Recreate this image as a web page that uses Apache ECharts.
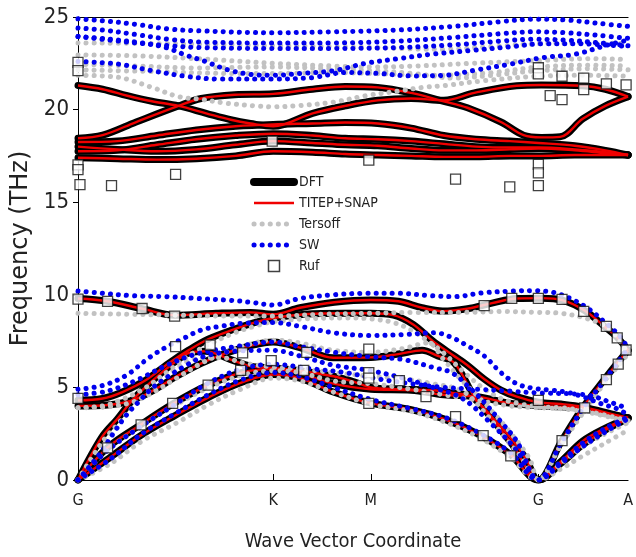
<!DOCTYPE html>
<html>
<head>
<meta charset="utf-8">
<title>Phonon dispersion</title>
<script src="https://cdn.jsdelivr.net/npm/echarts@6.0.0/dist/echarts.min.js"></script>
<style>
  html, body { margin: 0; padding: 0; background: #fff; }
  #chart { width: 636px; height: 557px; }
</style>
</head>
<body>
<div id="chart"></div>
<script>
// path G-K-M-G-A, x in path units (1 unit = 1 px of the plot)
const pathPos = [0, 198, 297, 467, 558];
const pathLabels = ['G', 'K', 'M', 'G', 'A'];

// DFT bands (also used for TITEP+SNAP, the two overlap)
const dftLow = [
  [[0,0],[32,1.2],[65,2.45],[99,3.5],[132,4.45],[165,5.25],[198,5.7],[225,5.5],[259,4.75],[297,4.15],[338,3.8],[371,3.3],[405,2.5],[438,1.4],[467,0],[490,0.9],[512,1.9],[535,2.7],[558,3.3]],
  [[0,0],[30,1.75],[64,3.0],[96,4.1],[131,5.1],[166,5.8],[198,6.0],[225,5.75],[259,5.2],[297,4.9],[338,4.85],[371,4.6],[405,4.5],[438,4.15],[467,4.0],[490,3.95],[512,3.85],[535,3.6],[558,3.35]],
  [[0,0],[24,2.3],[40,3.3],[55,4.3],[70,5.1],[85,5.8],[99,6.4],[112,6.85],[129,6.95],[155,6.5],[175,6.15],[198,6.05],[225,5.9],[259,5.6],[280,5.3],[297,5.0],[325,4.9],[360,4.85],[380,4.7],[399,4.5],[420,3.4],[440,2.2],[455,1.1],[467,0],[490,1.0],[512,2.1],[535,2.8],[558,3.35]],
  [[0,4.0],[30,4.05],[55,4.3],[75,4.8],[100,5.6],[125,6.3],[150,6.85],[175,7.25],[198,7.45],[225,7.15],[259,6.6],[297,6.62],[325,6.8],[349,7.0],[365,6.7],[382,6.3],[402,4.5],[420,3.3],[440,1.95],[467,0],[490,2.05],[512,3.9],[535,5.5],[547,6.3],[558,7.0]],
  [[0,4.3],[25,4.4],[45,4.75],[69,5.4],[92,6.3],[112,7.0],[132,7.6],[159,8.15],[179,8.5],[198,8.75],[230,8.95],[270,9.0],[297,9.0],[320,8.9],[340,8.4],[360,7.5],[380,6.75],[395,6.2],[412,5.45],[429,4.85],[445,4.5],[467,4.2],[490,4.1],[512,3.95],[535,3.65],[558,3.35]],
  [[0,9.8],[30,9.65],[65,9.25],[98,8.9],[140,9.0],[175,9.05],[198,8.95],[225,9.3],[260,9.6],[297,9.72],[325,9.65],[349,9.3],[370,9.12],[395,9.25],[420,9.55],[445,9.8],[470,9.82],[492,9.7],[514,9.15],[535,8.25],[547,7.7],[558,7.0]]
];
const dftHigh = [
  [[0,17.4],[40,17.35],[80,17.3],[120,17.35],[160,17.5],[198,17.75],[238,17.7],[271,17.6],[304,17.55],[338,17.5],[371,17.45],[404,17.45],[438,17.5],[467,17.5],[504,17.55],[535,17.55],[558,17.55]],
  [[0,17.75],[40,17.8],[80,18.1],[120,18.4],[160,18.6],[198,18.7],[238,18.6],[271,18.45],[304,18.4],[338,18.3],[371,18.15],[404,18.0],[438,17.95],[467,17.95],[504,17.85],[535,17.7],[558,17.55]],
  [[0,18.0],[40,17.85],[80,17.75],[120,17.85],[160,18.1],[198,18.3],[238,18.2],[271,18.1],[304,18.05],[338,17.9],[371,17.8],[404,17.8],[438,17.85],[467,17.9],[504,17.8],[535,17.65],[558,17.55]],
  [[0,18.25],[40,18.3],[80,18.6],[120,18.9],[160,19.1],[198,19.2],[238,19.25],[271,19.3],[304,19.25],[338,19.0],[371,18.6],[404,18.4],[438,18.3],[467,18.2],[504,18.05],[535,17.8],[558,17.55]],
  [[0,18.45],[25,18.62],[59,19.33],[102,20.2],[125,20.6],[159,20.8],[198,20.85],[238,21.1],[271,21.25],[304,21.2],[338,20.9],[371,20.45],[395,20.1],[429,19.33],[452,18.62],[470,18.5],[489,18.53],[512,19.5],[535,20.2],[558,20.7]],
  [[0,21.3],[25,21.1],[50,20.75],[75,20.45],[102,20.2],[130,19.8],[155,19.45],[175,19.25],[198,19.1],[238,19.8],[271,20.2],[304,20.5],[338,20.6],[371,20.5],[402,20.9],[445,21.29],[470,21.33],[512,21.29],[535,21.1],[558,20.7]]
];

const tersoffLow = [
  [[0,0],[32,0.85],[65,2.1],[99,3.05],[132,4.05],[165,4.9],[198,5.5],[225,5.35],[259,4.75],[297,4.1],[338,3.7],[371,3.15],[405,2.35],[438,1.25],[467,0],[490,0.6],[512,1.3],[535,2.0],[558,2.7]],
  [[0,0],[30,1.6],[64,2.9],[96,3.95],[131,4.95],[166,5.65],[198,5.9],[225,5.8],[259,5.35],[297,5.2],[338,4.9],[371,4.6],[405,4.3],[438,4.0],[467,3.9],[490,3.85],[512,3.7],[535,3.45],[558,3.15]],
  [[0,0],[24,2.0],[40,3.0],[55,3.9],[70,4.7],[85,5.4],[99,6.0],[120,6.55],[145,6.6],[170,6.3],[198,6.1],[225,6.0],[259,5.8],[297,5.6],[325,5.5],[360,5.2],[390,4.8],[410,3.8],[430,2.5],[450,1.2],[467,0],[490,0.9],[512,1.8],[535,2.5],[558,3.1]],
  [[0,3.9],[30,3.95],[55,4.2],[75,4.7],[100,5.5],[125,6.3],[150,6.9],[175,7.35],[198,7.55],[225,7.4],[259,7.0],[297,6.9],[330,7.1],[355,7.4],[371,6.5],[388,5.45],[405,4.55],[421,3.65],[438,2.6],[458,1.15],[467,0],[490,1.9],[512,3.6],[535,5.3],[558,6.8]],
  [[0,3.9],[25,4.0],[45,4.35],[69,5.0],[92,5.9],[112,6.7],[132,7.3],[159,7.95],[179,8.3],[198,8.55],[230,8.7],[270,8.75],[297,8.7],[320,8.5],[338,8.1],[355,7.5],[370,6.9],[390,5.9],[410,5.0],[429,4.4],[445,4.15],[467,3.95],[490,3.9],[512,3.75],[535,3.5],[558,3.2]],
  [[0,9.0],[50,8.95],[100,8.9],[150,8.85],[198,8.85],[250,8.95],[297,9.0],[340,9.05],[390,9.05],[430,9.1],[467,9.05],[490,9.0],[514,8.75],[535,8.3],[547,7.7],[558,6.8]]
];
const tersoffHigh = [
  [[0,23.6],[100,23.55],[198,23.45],[297,23.35],[370,23.25],[420,23.4],[467,23.55],[520,23.6],[558,23.55]],
  [[0,22.95],[60,22.9],[120,22.75],[198,22.5],[260,22.35],[297,22.3],[340,22.35],[400,22.5],[467,22.65],[520,22.75],[558,22.7]],
  [[0,22.45],[60,22.35],[120,22.25],[198,22.3],[259,22.2],[297,22.1],[340,21.95],[382,21.7],[420,21.85],[467,22.1],[520,22.2],[558,22.15]],
  [[0,22.15],[80,22.05],[160,21.95],[198,21.95],[259,22.0],[297,21.95],[360,21.85],[420,22.0],[467,22.3],[520,22.4],[558,22.35]],
  [[0,21.85],[40,21.75],[75,21.2],[102,20.7],[125,20.55],[150,20.35],[180,20.2],[198,20.15],[225,20.22],[259,20.4],[292,20.75],[325,21.0],[350,21.2],[372,21.3],[410,21.55],[467,21.8],[520,21.85],[558,21.8]]
];

const swLow = [
  [[0,0],[32,1.1],[65,2.5],[99,3.6],[132,4.6],[165,5.4],[198,5.8],[225,5.6],[259,5.0],[297,4.35],[338,3.85],[371,3.4],[405,2.6],[438,1.5],[467,0],[490,0.9],[512,1.8],[535,2.6],[558,3.3]],
  [[0,0],[30,1.6],[64,2.9],[96,4.0],[131,5.2],[166,6.0],[198,6.25],[238,6.0],[271,5.8],[305,5.45],[338,5.2],[371,5.0],[405,4.9],[438,4.8],[467,4.7],[515,4.6],[540,4.2],[558,3.85]],
  [[0,0],[22,1.4],[35,2.45],[49,3.5],[62,4.25],[75,4.95],[89,5.5],[110,6.2],[130,6.7],[160,6.95],[198,7.0],[225,6.7],[259,6.2],[297,5.9],[330,5.5],[360,5.0],[390,4.4],[420,3.0],[445,1.6],[467,0],[490,1.0],[512,2.0],[535,2.8],[558,3.4]],
  [[0,4.6],[30,4.8],[60,5.4],[90,6.2],[120,6.8],[160,7.2],[198,7.45],[225,7.2],[259,6.9],[297,6.65],[330,6.5],[362,6.05],[379,5.8],[395,5.1],[412,4.2],[429,3.15],[445,2.1],[467,0],[490,2.0],[512,3.85],[535,5.45],[558,7.1]],
  [[0,4.9],[25,5.1],[49,5.65],[72,6.6],[92,7.25],[109,7.7],[125,8.1],[145,8.3],[165,8.45],[198,8.5],[225,8.3],[259,7.95],[297,7.8],[330,7.85],[362,7.95],[379,7.7],[395,7.25],[412,6.7],[429,5.8],[445,5.2],[462,4.95],[479,4.85],[495,4.75],[512,4.5],[529,4.15],[549,3.8],[558,3.5]],
  [[0,10.2],[22,10.1],[55,9.95],[89,9.9],[122,9.8],[155,9.7],[175,9.6],[198,9.45],[225,9.8],[259,10.0],[292,10.08],[325,10.08],[359,9.95],[382,9.9],[410,10.1],[440,10.2],[462,10.22],[482,10.13],[502,9.74],[519,9.2],[535,8.5],[549,7.8],[558,7.1]]
];
const swHigh = [
  [[0,24.9],[25,24.8],[59,24.6],[92,24.35],[125,24.25],[198,24.15],[259,24.2],[325,24.3],[382,24.5],[429,24.75],[462,24.88],[495,24.84],[529,24.65],[558,24.5]],
  [[0,24.4],[25,24.3],[59,24.05],[92,23.8],[125,23.65],[198,23.6],[259,23.6],[325,23.7],[382,23.9],[429,24.1],[462,24.2],[495,24.15],[529,24.0],[558,23.85]],
  [[0,23.95],[59,23.6],[92,23.45],[125,23.35],[198,23.3],[259,23.3],[325,23.35],[382,23.5],[429,23.7],[462,23.8],[495,23.75],[529,23.6],[558,23.45]],
  [[0,23.95],[32,23.8],[65,23.6],[89,23.35],[109,22.95],[129,22.6],[152,22.15],[175,21.9],[198,21.85],[225,21.95],[259,22.1],[292,22.5],[325,22.75],[360,23.0],[400,23.2],[440,23.4],[470,23.55],[510,23.55],[558,23.4]],
  [[0,22.6],[42,22.45],[75,22.1],[109,21.8],[142,21.65],[198,21.65],[238,21.73],[271,22.0],[305,21.95],[338,21.82],[371,21.85],[405,22.15],[438,22.45],[471,22.8],[505,23.0],[538,23.5],[558,23.75]]
];

// Ruf experimental points
const rufPoints = [
  [0,9.77],[30,9.65],[65,9.26],[98,8.85],[99,7.2],[134,7.29],[167,6.86],[196,6.45],[165,5.92],[132,5.12],[96,4.14],[64,2.98],[30,1.74],[0,4.41],
  [232,6.89],[229,5.92],[295,7.07],[295,5.8],[295,5.5],[295,4.14],[326,5.37],[353,4.5],[383,3.42],[411,2.4],[439,1.3],[467,4.3],
  [412,9.42],[440,9.81],[467,9.81],[491,9.75],[513,9.1],[536,8.3],[547,7.67],[556,7.02],[548,6.26],[536,5.42],[514,3.89],[491,2.13],
  [0,22.55],[0,22.1],[0,17.02],[0,16.76],[2,15.95],[34,15.9],[99,16.5],[197,18.3],[295,17.27],[383,16.25],[438,15.83],
  [467,22.26],[467,21.93],[491,21.8],[513,21.7],[513,21.08],[536,21.39],[556,21.33],[479,20.75],[491,20.54],[467,17.04],[467,16.58],[467,15.9]
];

const FONT = "'DejaVu Sans Condensed', 'Liberation Sans', sans-serif";

const dftStyle = { color: '#000', width: 7, cap: 'round', join: 'round' };
const titepStyle = { color: '#f00000', width: 2.4, join: 'round' };
const tersoffStyle = { color: '#c2c2c2', width: 5, type: [0.1, 8], cap: 'round' };
const swStyle = { color: '#0000ee', width: 5, type: [0.1, 8], cap: 'round' };

function bandSeries(name, bands, style, z) {
  return bands.map(b => ({
    name: name,
    type: 'line',
    data: b,
    z: z,
    symbol: 'none',
    smooth: 0.35,
    silent: true,
    animation: false,
    itemStyle: { color: style.color },
    lineStyle: style,
    emphasis: { disabled: true }
  }));
}

const series = [].concat(
  bandSeries('DFT', dftLow.concat(dftHigh), dftStyle, 2),
  bandSeries('TITEP+SNAP', dftLow.concat(dftHigh), titepStyle, 3),
  bandSeries('Tersoff', tersoffLow.concat(tersoffHigh), tersoffStyle, 4),
  bandSeries('SW', swLow.concat(swHigh), swStyle, 5),
  [{
    name: 'Ruf',
    type: 'scatter',
    data: rufPoints,
    symbol: 'rect',
    symbolSize: 10,
    z: 10,
    silent: true,
    animation: false,
    itemStyle: { color: '#fff', borderColor: '#111', borderWidth: 1.3 }
  }]
);

const noMark = { opacity: 0 };

const chart = echarts.init(document.getElementById('chart'));
chart.setOption({
  backgroundColor: '#fff',
  animation: false,
  grid: { left: 78, right: 0, top: 17, bottom: 71 },
  legend: {
    orient: 'vertical',
    left: 245,
    top: 170,
    itemWidth: 40,
    itemHeight: 11,
    itemGap: 7,
    selectedMode: false,
    symbolKeepAspect: true,
    textStyle: { fontSize: 14, color: '#222', fontFamily: FONT },
    data: [
      { name: 'DFT', itemStyle: noMark, lineStyle: { width: 8, color: '#000', cap: 'round' } },
      { name: 'TITEP+SNAP', itemStyle: noMark, lineStyle: { width: 2.5, color: '#f00000' } },
      { name: 'Tersoff', itemStyle: noMark, lineStyle: { width: 5, color: '#c2c2c2', type: [0.1, 8], cap: 'round' } },
      { name: 'SW', itemStyle: noMark, lineStyle: { width: 5, color: '#0000ee', type: [0.1, 8], cap: 'round' } },
      { name: 'Ruf', icon: 'path://M0 0H10V10H0Z', itemStyle: { color: '#fff', borderColor: '#111', borderWidth: 1.5 } }
    ]
  },
  xAxis: [{
    type: 'value',
    min: 0,
    max: 558,
    position: 'bottom',
    axisLine: { onZero: false, lineStyle: { color: '#000', width: 1 } },
    axisTick: { show: true, inside: true, length: 6, customValues: pathPos.slice(1, 4), lineStyle: { color: '#000' } },
    axisLabel: {
      customValues: pathPos,
      formatter: v => pathLabels[pathPos.indexOf(v)],
      alignMaxLabel: 'center',
      fontSize: 16, margin: 13, color: '#222', fontFamily: FONT
    },
    splitLine: { show: false },
    name: 'Wave Vector Coordinate',
    nameLocation: 'middle',
    nameGap: 52,
    nameTextStyle: { fontSize: 20, color: '#222', fontFamily: FONT }
  }, {
    type: 'value',
    min: 0,
    max: 558,
    position: 'top',
    axisLine: { onZero: false, lineStyle: { color: '#000', width: 1 } },
    axisTick: { show: false },
    axisLabel: { show: false },
    splitLine: { show: false }
  }],
  yAxis: {
    type: 'value',
    min: 0,
    max: 25,
    interval: 5,
    axisLine: { show: true, lineStyle: { color: '#000', width: 1 } },
    axisTick: { show: true, length: 5, lineStyle: { color: '#000' } },
    axisLabel: { fontSize: 22, margin: 9, color: '#222', fontFamily: FONT },
    splitLine: { show: false },
    name: 'Frequency (THz)',
    nameLocation: 'middle',
    nameGap: 38,
    nameTextStyle: { fontSize: 24, color: '#222', fontFamily: "'DejaVu Sans', sans-serif" }
  },
  series: series
});
</script>
</body>
</html>
